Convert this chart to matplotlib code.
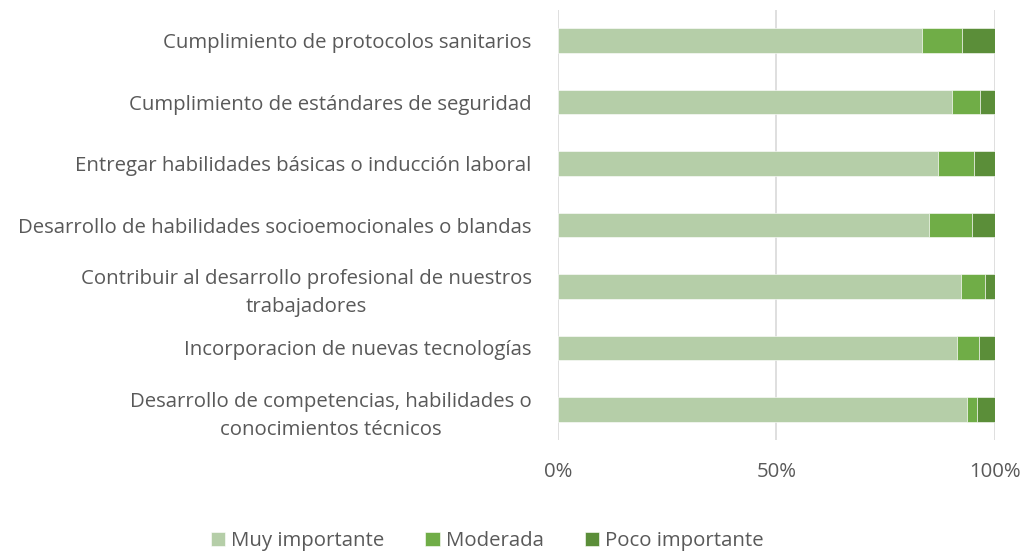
import matplotlib
matplotlib.use("Agg")
import matplotlib.pyplot as plt
from matplotlib.ticker import FixedLocator

plt.rcParams['font.family'] = ['Open Sans', 'DejaVu Sans']

categorias = [
    "Cumplimiento de protocolos sanitarios",
    "Cumplimiento de estándares de seguridad",
    "Entregar habilidades básicas o inducción laboral",
    "Desarrollo de habilidades socioemocionales o blandas",
    "Contribuir al desarrollo profesional de nuestros\ntrabajadores",
    "Incorporacion de nuevas tecnologías",
    "Desarrollo de competencias, habilidades o\nconocimientos técnicos",
]
muy_importante = [83.2, 90.2, 87.0, 84.8, 92.2, 91.2, 93.6]
moderada = [9.3, 6.3, 8.1, 10.0, 5.5, 5.1, 2.2]
poco_importante = [7.5, 3.5, 4.9, 5.2, 2.3, 3.7, 4.2]

series = [
    ("Muy importante", muy_importante, "#B5CEA8"),
    ("Moderada", moderada, "#70AD47"),
    ("Poco importante", poco_importante, "#5B8E39"),
]

gris = "#595959"

fig = plt.figure(figsize=(10.28, 5.53), dpi=100)
ax = fig.add_axes([0.5428, 0.204, 0.4251, 0.778])

y = list(range(len(categorias)))
left = [0.0] * len(categorias)
for nombre, vals, color in series:
    ax.barh(y, vals, left=left, height=0.4, color=color, label=nombre,
            edgecolor="white", linewidth=0.4, zorder=3)
    left = [a + b for a, b in zip(left, vals)]

ax.set_xlim(0, 100)
ax.set_ylim(len(categorias) - 0.5, -0.5)
ax.xaxis.set_major_locator(FixedLocator([0, 50, 100]))
ax.set_xticklabels(["0%", "50%", "100%"])
ax.set_yticks(y)
ax.set_yticklabels(categorias, multialignment="center", linespacing=1.55)
# bring the two-line labels up a little so they sit centred on their bar
for lbl in ax.get_yticklabels():
    if "\n" in lbl.get_text():
        lbl.set_va("center_baseline")
ax.grid(axis="x", color="#D9D9D9", linewidth=1.2, zorder=0)
for s in ax.spines.values():
    s.set_visible(False)
ax.tick_params(axis="both", length=0, colors=gris, labelsize=14.7)
ax.tick_params(axis="x", pad=16)
ax.tick_params(axis="y", pad=19)

fig.legend(loc="lower center", bbox_to_anchor=(0.474, -0.03), ncol=3,
           frameon=False, fontsize=14.7, handlelength=0.7,
           handleheight=0.7, handletextpad=0.3, columnspacing=2.0,
           labelcolor=gris)

fig.savefig("out.png", dpi=100)
